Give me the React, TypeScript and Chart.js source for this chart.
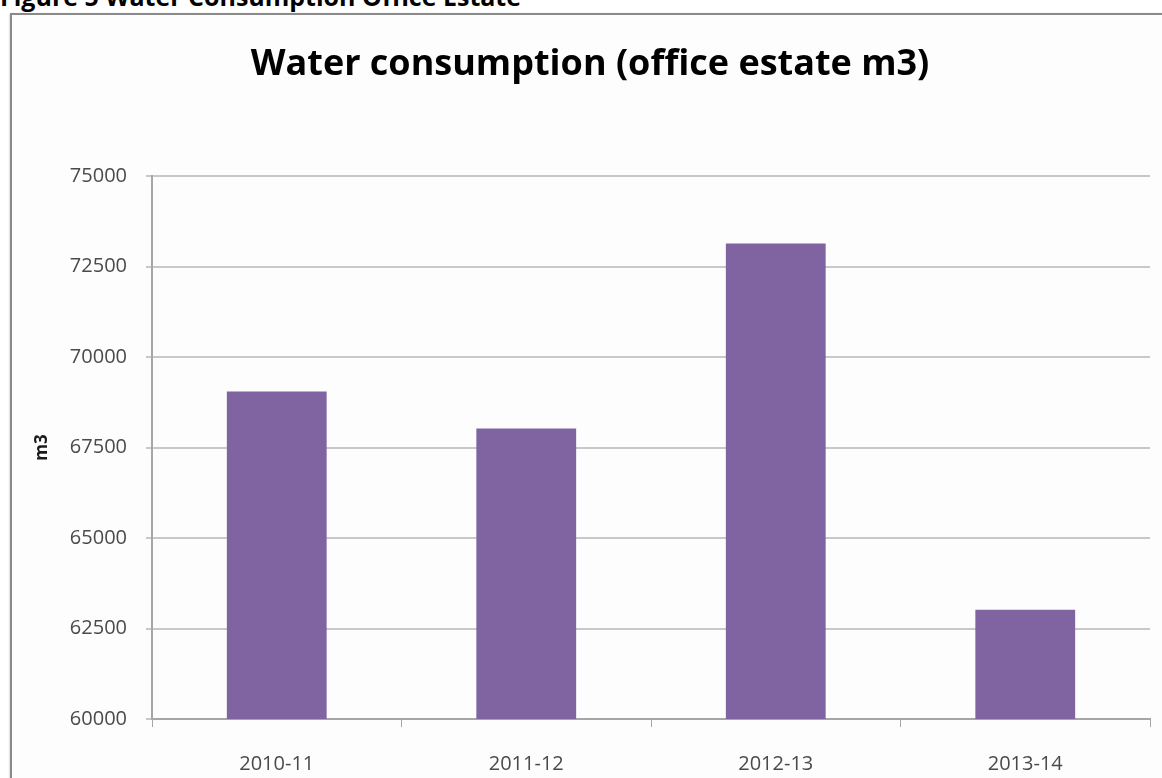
import React, { useEffect, useRef } from "react";
import { Chart, registerables } from "chart.js";

Chart.register(...registerables);

const categories = ["2010-11", "2011-12", "2012-13", "2013-14"];
const consumption = [69050, 68030, 73140, 63020];
const yMin = 60000;
const yMax = 75000;
const yStep = 2500;
const chartTitle = "Water consumption (office estate m3)";
const yAxisTitle = "m3";
const figureHeading = "Figure 5 Water Consumption Office Estate";

const FONT = "'Open Sans', 'Noto Sans', sans-serif";

export default function App() {
  const ref = useRef<HTMLCanvasElement>(null);

  useEffect(() => {
    if (!ref.current) return;
    const chart = new Chart(ref.current, {
      type: "bar",
      data: {
        labels: categories,
        datasets: [
          {
            data: consumption,
            backgroundColor: "#8064a2",
            borderWidth: 0,
            barPercentage: 0.4,
            categoryPercentage: 1,
          },
        ],
      },
      options: {
        animation: false,
        responsive: false,
        maintainAspectRatio: false,
        layout: { padding: { left: 30, right: 12, top: 0, bottom: 0 } },
        plugins: {
          legend: { display: false },
          tooltip: { enabled: false },
          title: {
            display: true,
            text: chartTitle,
            color: "#000000",
            font: { family: FONT, size: 36, weight: "bold" },
            padding: { top: 43, bottom: 90 },
          },
        },
        scales: {
          x: {
            grid: {
              display: true,
              drawOnChartArea: false,
              drawTicks: true,
              tickLength: 8,
              color: "#a6a6a6",
              offset: true,
            },
            border: { color: "#a6a6a6", width: 2 },
            ticks: {
              color: "#4a4a4a",
              font: { family: FONT, size: 20 },
              padding: 25,
            },
            afterFit: (s: any) => {
              s.height = 59;
            },
          },
          y: {
            min: yMin,
            max: yMax,
            ticks: {
              stepSize: yStep,
              color: "#4a4a4a",
              font: { family: FONT, size: 20 },
              padding: 19,
              callback: (v: any) => String(v),
            },
            grid: {
              color: "#c8c8c8",
              lineWidth: 2,
              tickLength: 6,
            },
            border: { color: "#a6a6a6", width: 2 },
            title: {
              display: true,
              text: yAxisTitle,
              color: "#1a1a1a",
              font: { family: FONT, size: 17, weight: "bold" },
              padding: { top: 2, bottom: 0 },
            },
            afterFit: (s: any) => {
              s.width = 122;
            },
          },
        },
      },
    });
    return () => chart.destroy();
  }, []);

  return (
    <div
      style={{
        position: "absolute",
        left: 0,
        top: 0,
        width: 1162,
        height: 778,
        overflow: "hidden",
        background: "#ffffff",
      }}
    >
      <div
        style={{
          position: "absolute",
          left: 0,
          top: -16,
          fontFamily: FONT,
          fontWeight: "bold",
          fontSize: 25,
          lineHeight: "25px",
          color: "#000",
          whiteSpace: "nowrap",
        }}
      >
        {figureHeading}
      </div>
      <div
        style={{
          position: "absolute",
          left: 10,
          top: 13,
          width: 1200,
          height: 800,
          border: "2px solid #8a8a8a",
          boxShadow: "0 1px 2px #b0b0b0",
          background: "#fdfdfd",
        }}
      />
      <canvas
        ref={ref}
        width={1162}
        height={778}
        style={{ position: "absolute", left: 0, top: 0 }}
      />
    </div>
  );
}
